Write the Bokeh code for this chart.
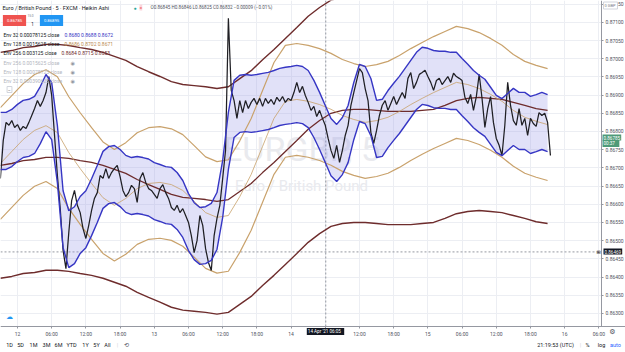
import numpy as np
from bokeh.plotting import figure
from bokeh.models import (Range1d, FixedTicker, PrintfTickFormatter, Span, Label,
                          BoxAnnotation)
from bokeh.embed import file_html
from bokeh.resources import INLINE

# ---------------- data (time in hours since 12 Apr 2021 00:00 UTC) ----------------
price_t = np.arange(194) * 0.5 - 3.0
price_close = [
    0.86671, 0.86775, 0.86825, 0.86817, 0.86830, 0.86811, 0.86819, 0.86803, 0.86814, 0.86808,
    0.86825, 0.86844, 0.86863, 0.86885, 0.86869, 0.86885, 0.86907, 0.86951, 0.86899, 0.86789,
    0.86679, 0.86588, 0.86473, 0.86423, 0.86522, 0.86610, 0.86638, 0.86597, 0.86577, 0.86533,
    0.86506, 0.86542, 0.86583, 0.86616, 0.86632, 0.86679, 0.86671, 0.86698, 0.86671, 0.86687,
    0.86698, 0.86707, 0.86676, 0.86638, 0.86621, 0.86632, 0.86652, 0.86643, 0.86605, 0.86671,
    0.86687, 0.86660, 0.86643, 0.86638, 0.86627, 0.86616, 0.86643, 0.86654, 0.86632, 0.86616,
    0.86591, 0.86583, 0.86597, 0.86577, 0.86588, 0.86569, 0.86550, 0.86514, 0.86467, 0.86500,
    0.86569, 0.86542, 0.86478, 0.86440, 0.86418, 0.86514, 0.86561, 0.86597, 0.86671, 0.86748,
    0.87111, 0.86913, 0.86885, 0.86836, 0.86885, 0.86852, 0.86885, 0.86863, 0.86880, 0.86891,
    0.86874, 0.86891, 0.86869, 0.86891, 0.86877, 0.86888, 0.86874, 0.86894, 0.86883, 0.86896,
    0.86880, 0.86891, 0.86885, 0.86907, 0.86935, 0.86907, 0.86924, 0.86899, 0.86880, 0.86858,
    0.86869, 0.86841, 0.86858, 0.86836, 0.86817, 0.86781, 0.86748, 0.86726, 0.86762, 0.86715,
    0.86748, 0.86789, 0.86817, 0.86872, 0.86907, 0.86940, 0.86973, 0.86962, 0.86918, 0.86885,
    0.86797, 0.86767, 0.86803, 0.86844, 0.86872, 0.86885, 0.86858, 0.86877, 0.86896, 0.86874,
    0.86891, 0.86907, 0.86891, 0.86946, 0.86962, 0.86918, 0.86935, 0.86957, 0.86962, 0.86968,
    0.86951, 0.86935, 0.86913, 0.86940, 0.86946, 0.86929, 0.86940, 0.86951, 0.86935, 0.86960,
    0.86951, 0.86946, 0.86940, 0.86894, 0.86877, 0.86902, 0.86858, 0.86896, 0.86957, 0.86891,
    0.86811, 0.86863, 0.86896, 0.86825, 0.86781, 0.86762, 0.86734, 0.86817, 0.86935, 0.86872,
    0.86830, 0.86817, 0.86863, 0.86817, 0.86836, 0.86789, 0.86836, 0.86822, 0.86814, 0.86852,
    0.86844, 0.86850, 0.86825, 0.86734,
]

env32_t = np.arange(97) * 1.0 - 3.0
env32_basis = [
    0.86774, 0.86774, 0.86782, 0.86796, 0.86807, 0.86810, 0.86818, 0.86845, 0.86878, 0.86856,
    0.86738, 0.86559, 0.86504, 0.86515, 0.86543, 0.86559, 0.86592, 0.86628, 0.86667, 0.86680,
    0.86683, 0.86672, 0.86656, 0.86650, 0.86653, 0.86650, 0.86646, 0.86636, 0.86631, 0.86625,
    0.86623, 0.86609, 0.86587, 0.86551, 0.86526, 0.86513, 0.86515, 0.86524, 0.86554, 0.86642,
    0.86774, 0.86862, 0.86876, 0.86878, 0.86876, 0.86878, 0.86881, 0.86884, 0.86889, 0.86895,
    0.86898, 0.86900, 0.86903, 0.86900, 0.86889, 0.86862, 0.86829, 0.86793, 0.86757, 0.86741,
    0.86760, 0.86793, 0.86856, 0.86906, 0.86900, 0.86867, 0.86807, 0.86810, 0.86834, 0.86854,
    0.86873, 0.86895, 0.86917, 0.86939, 0.86953, 0.86950, 0.86944, 0.86942, 0.86942, 0.86939,
    0.86939, 0.86922, 0.86906, 0.86889, 0.86876, 0.86865, 0.86843, 0.86821, 0.86812, 0.86826,
    0.86840, 0.86829, 0.86829, 0.86818, 0.86823, 0.86829, 0.86823,
]

env_t = np.arange(49) * 2.0 - 3.0
env128_basis = [
    0.86712, 0.86745, 0.86778, 0.86803, 0.86816, 0.86797, 0.86742, 0.86698, 0.86657, 0.86618,
    0.86597, 0.86616, 0.86643, 0.86657, 0.86660, 0.86654, 0.86638, 0.86608, 0.86577, 0.86564,
    0.86569, 0.86621, 0.86682, 0.86759, 0.86836, 0.86883, 0.86888, 0.86883, 0.86874, 0.86861,
    0.86844, 0.86833, 0.86825, 0.86830, 0.86839, 0.86855, 0.86874, 0.86891, 0.86907, 0.86921,
    0.86935, 0.86929, 0.86918, 0.86902, 0.86883, 0.86858, 0.86839, 0.86828, 0.86819,
]
env256_basis = [
    0.86707, 0.86712, 0.86720, 0.86723, 0.86729, 0.86729, 0.86726, 0.86720, 0.86715, 0.86707,
    0.86696, 0.86685, 0.86668, 0.86654, 0.86641, 0.86627, 0.86619, 0.86616, 0.86613, 0.86608,
    0.86613, 0.86635, 0.86657, 0.86687, 0.86715, 0.86745, 0.86775, 0.86806, 0.86830, 0.86850,
    0.86858, 0.86861, 0.86861, 0.86858, 0.86855, 0.86855, 0.86855, 0.86858, 0.86861, 0.86872,
    0.86885, 0.86891, 0.86894, 0.86891, 0.86888, 0.86880, 0.86872, 0.86863, 0.86858,
]

# envelope widths (fraction of basis)
env32_pct = 0.000904
env128_pct = 0.00177
env256_pct = 0.00358

y_ticks = [0.8630, 0.8635, 0.8640, 0.8645, 0.8650, 0.8655, 0.8660, 0.8665, 0.8670,
           0.8675, 0.8680, 0.8685, 0.8690, 0.8695, 0.8700, 0.8705, 0.8710, 0.8715]
x_ticks = [0, 6, 12, 18, 24, 30, 36, 42, 48, 54, 60, 66, 72, 78, 84, 90, 96, 102]
x_tick_labels = ["12", "06:00", "12:00", "18:00", "13", "06:00", "12:00", "18:00", "14", "",
                 "12:00", "18:00", "15", "06:00", "12:00", "18:00", "16", "06:00"]

cross_t = 54.0833
cross_price = 0.86469
last_price = 0.86785

# ---------------- geometry helpers (layout only) ----------------
# price pane: 601 x 326 px showing hours -2.98..102.46 and price 0.86264..0.87160
X0, XP = -2.98, (102.46 + 2.98) / 601
Y1, YP = 0.87160, (0.87160 - 0.86264) / 326


def hx(px):
    return X0 + px * XP


def vy(py):
    return Y1 - py * YP


BLUE = "#3636c4"
TAN = "#c9a26c"
MAROON = "#6e2c2c"
FONT = "Roboto"

p = figure(width=625, height=352, x_range=Range1d(hx(0), hx(625)),
           y_range=Range1d(vy(352), vy(0)),
           output_backend="svg", toolbar_location=None, y_axis_location="right",
           min_border_left=0, min_border_top=0, min_border_right=0, min_border_bottom=0,
           background_fill_color="white", border_fill_color="white", outline_line_color=None)

# axes drawn at the pane edges
p.yaxis.fixed_location = hx(601)
p.xaxis.fixed_location = vy(326)
p.yaxis.bounds = (vy(326), vy(0))
p.xaxis.bounds = (hx(0), hx(625))
p.yaxis.ticker = FixedTicker(ticks=y_ticks)
p.yaxis.formatter = PrintfTickFormatter(format="%.5f")
p.xaxis.ticker = FixedTicker(ticks=x_ticks)
p.xaxis.major_label_overrides = {t: l for t, l in zip(x_ticks, x_tick_labels)}
for ax in (p.xaxis[0], p.yaxis[0]):
    ax.major_label_text_font = FONT
    ax.major_label_text_font_size = "5px"
    ax.major_label_text_color = "#50535e"
    ax.axis_line_color = "#9598a1"
    ax.major_tick_line_color = "#9598a1"
    ax.major_tick_out = 2
    ax.major_tick_in = 0
    ax.minor_tick_line_color = None
    ax.major_label_standoff = 2
p.xgrid.ticker = FixedTicker(ticks=x_ticks)
p.ygrid.ticker = FixedTicker(ticks=y_ticks)
p.grid.grid_line_color = "#eceef3"
p.grid.grid_line_width = 1

# white panels for the scale areas (cover grid lines outside the price pane)
p.add_layout(BoxAnnotation(left=hx(601), fill_color="white", fill_alpha=1.0,
                           line_alpha=0, level="glyph"))
p.add_layout(BoxAnnotation(top=vy(326), fill_color="white", fill_alpha=1.0,
                           line_alpha=0, level="glyph"))


def add_label(px, py, text, size=5.0, color="#131722", align="left", baseline="middle",
              bg=None, pad=0, font=FONT, level="annotation", border=None, style="normal"):
    kw = dict(x=hx(px), y=vy(py), text=text, text_font=font, text_font_size=f"{size}px",
              text_color=color, text_align=align, text_baseline=baseline, level=level,
              text_font_style=style)
    if bg is not None:
        kw.update(background_fill_color=bg, background_fill_alpha=1.0)
    if pad:
        kw["padding"] = pad
    if border is not None:
        kw.update(border_line_color=border, border_line_width=1)
    p.add_layout(Label(**kw))


# watermark
add_label(301, 148, "EURGBP, 5", size=34, color="#e9eaee", align="center", level="underlay")
add_label(301, 185, "Euro / British Pound", size=15, color="#e9eaee", align="center",
          level="underlay")

# crosshair
p.add_layout(Span(location=cross_t, dimension="height", line_color="#9598a1",
                  line_dash="2 2", line_width=1, level="underlay"))
p.add_layout(Span(location=cross_price, dimension="width", line_color="#9598a1",
                  line_dash="2 2", line_width=1, level="underlay"))

# ---------------- series ----------------
b32 = np.array(env32_basis)
b128 = np.array(env128_basis)
b256 = np.array(env256_basis)

p.varea(x=env32_t, y1=b32 * (1 - env32_pct), y2=b32 * (1 + env32_pct),
        fill_color="#9a9ae8", fill_alpha=0.3)

p.line(env_t, b256 * (1 + env256_pct), line_color=MAROON, line_width=1.4)
p.line(env_t, b256 * (1 - env256_pct), line_color=MAROON, line_width=1.4)
p.line(env_t, b256, line_color=MAROON, line_width=1.3)

p.line(env_t, b128 * (1 + env128_pct), line_color=TAN, line_width=1.2)
p.line(env_t, b128 * (1 - env128_pct), line_color=TAN, line_width=1.2)
p.line(env_t, b128, line_color=TAN, line_width=0.9, line_alpha=0.9)

p.line(price_t, price_close, line_color="#1f1f24", line_width=1.25)

p.line(env32_t, b32 * (1 + env32_pct), line_color=BLUE, line_width=1.4)
p.line(env32_t, b32 * (1 - env32_pct), line_color=BLUE, line_width=1.4)

# ---------------- header / legend ----------------
add_label(2, 7, "Euro / British Pound · 5 · FXCM · Heikin Ashi", size=5.5)
add_label(133, 7, "●", size=5, color="#26a69a")
add_label(139, 7, "=", size=5, color="#ef5350", bg="#fbd5dc")
add_label(150, 7, "O0.86845  H0.86846  L0.86825  C0.86832  −0.00009 (−0.01%)", size=4.6,
          color="#50535e")

add_label(14, 20, "0.86785", size=4.2, color="white", align="center", bg="#ef5350", pad=4)
add_label(30, 15, "15.0", size=3.2, color="#787b86", align="center")
add_label(32, 23, "1", size=4.5, color="#131722", align="center")
add_label(51, 20, "0.86895", size=4.2, color="white", align="center", bg="#2196f3", pad=4)

add_label(3, 34, "Env 32 0.00078125 close", size=5)
add_label(64, 34, "0.8680 0.8688 0.8672", size=5, color=BLUE)
add_label(3, 43, "Env 128 0.0015625 close", size=5)
add_label(64, 43, "0.8686 0.8702 0.8671", size=5, color="#bb8c52")
add_label(3, 52, "Env 256 0.003125 close", size=5)
add_label(61, 52, "0.8684 0.8715 0.8653", size=5, color=MAROON)
add_label(3, 62, "Env 256 0.0015625 close", size=5, color="#b2b5be")
add_label(3, 71, "Env 128 0.00078125 close", size=5, color="#b2b5be")
add_label(3, 80, "Env 32 0.000390625 close", size=5, color="#b2b5be")
for py in (62, 71, 80):
    add_label(70, py, "◉", size=5, color="#9598a1", font="DejaVu Sans")
add_label(9, 89, "−", size=5, color="#50535e", align="center", border="#d1d4dc", pad=1)

# ---------------- price axis badges ----------------
add_label(603, 5, "0  GBP", size=4, color="#787b86", bg="white", border="#d1d4dc", pad=1)
add_label(602, 137, "0.86785", size=4.6, color="white", bg="#4e9a78", pad=1)
add_label(602, 143, "00:37   ", size=4.6, color="white", bg="#4e9a78", pad=1)
add_label(598, 251, "⊞", size=5, color="#131722", align="center", font="DejaVu Sans")
add_label(603, 251, "0.86469", size=4.6, color="white", bg="#131722", pad=1)

# time badge
add_label(325, 331, "14 Apr '21   06:05", size=4.6, color="white", align="center",
          bg="#131722", pad=1)
add_label(612, 331, "⚙", size=7, color="#50535e", align="center", font="DejaVu Sans")
add_label(9, 316, "☁", size=7, color="#2196f3", align="center", font="DejaVu Sans")

# ---------------- bottom strip ----------------
for cx, t in zip([9, 20, 33, 46, 58, 71, 85, 96, 107],
                 ["1D", "5D", "1M", "3M", "6M", "YTD", "1Y", "5Y", "All"]):
    add_label(cx, 344, t, size=5.5, color="#131722", align="center")
add_label(117, 344, "|", size=6, color="#d1d4dc", align="center")
add_label(126, 344, "⟲", size=6, color="#50535e", align="center", font="DejaVu Sans")
add_label(555, 344, "21:19:53 (UTC)", size=5.5, color="#131722", align="center")
add_label(580, 344, "|", size=6, color="#d1d4dc", align="center")
add_label(587, 344, "%", size=5.5, color="#131722", align="center")
add_label(601, 344, "log", size=5.5, color="#131722", align="center")
add_label(615, 344, "auto", size=5.5, color="#2962ff", align="center")

open("out.html", "w").write(file_html(p, INLINE))
